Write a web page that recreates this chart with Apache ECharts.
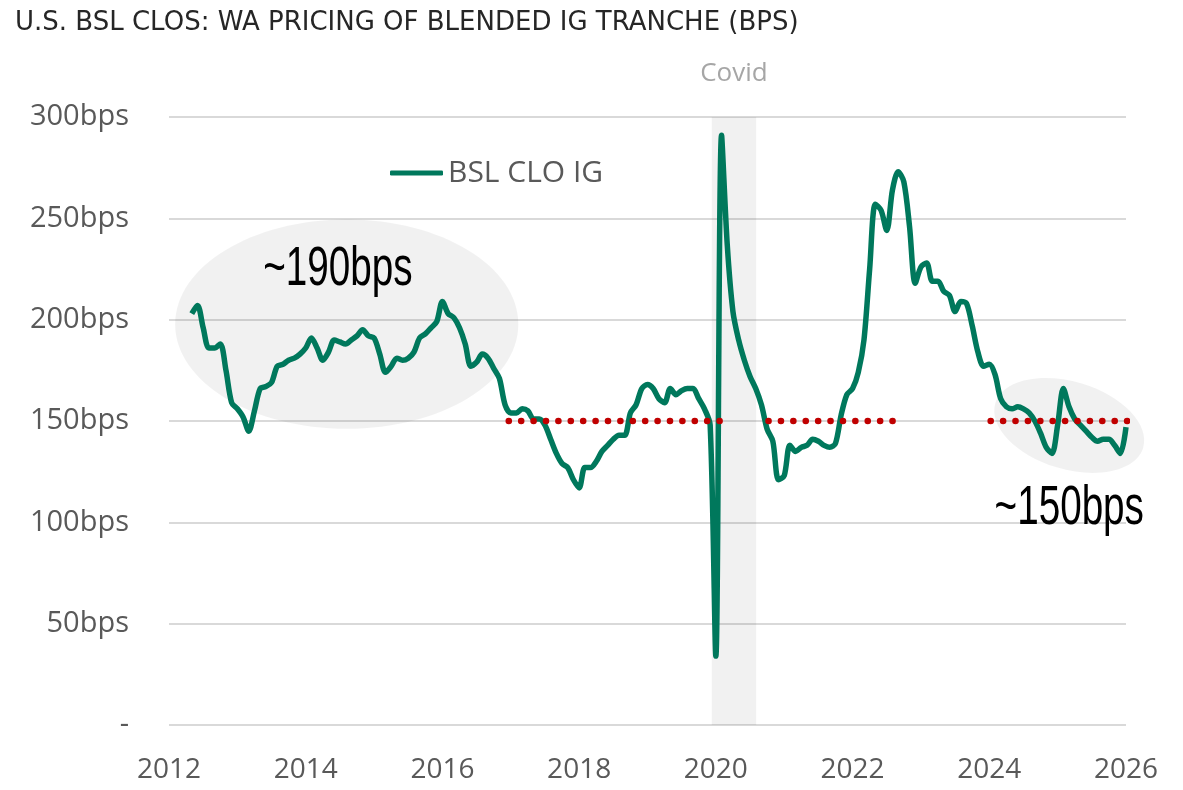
<!DOCTYPE html>
<html>
<head>
<meta charset="utf-8">
<script src="https://cdn.jsdelivr.net/npm/echarts@6/dist/echarts.min.js"></script>
<style>
  html, body { margin: 0; padding: 0; background: #fff; }
  #chart { width: 1183px; height: 790px; }
</style>
</head>
<body>
<div id="chart"></div>
<script>
// monthly WA spread, bps
const dates = [
  '2012-05', '2012-06', '2012-07', '2012-08', '2012-09', '2012-10', '2012-11', '2012-12',
  '2013-01', '2013-02', '2013-03', '2013-04', '2013-05', '2013-06', '2013-07', '2013-08', '2013-09', '2013-10', '2013-11', '2013-12',
  '2014-01', '2014-02', '2014-03', '2014-04', '2014-05', '2014-06', '2014-07', '2014-08', '2014-09', '2014-10', '2014-11', '2014-12',
  '2015-01', '2015-02', '2015-03', '2015-04', '2015-05', '2015-06', '2015-07', '2015-08', '2015-09', '2015-10', '2015-11', '2015-12',
  '2016-01', '2016-02', '2016-03', '2016-04', '2016-05', '2016-06', '2016-07', '2016-08', '2016-09', '2016-10', '2016-11', '2016-12',
  '2017-01', '2017-02', '2017-03', '2017-04', '2017-05', '2017-06', '2017-07', '2017-08', '2017-09', '2017-10', '2017-11', '2017-12',
  '2018-01', '2018-02', '2018-03', '2018-04', '2018-05', '2018-06', '2018-07', '2018-08', '2018-09', '2018-10', '2018-11', '2018-12',
  '2019-01', '2019-02', '2019-03', '2019-04', '2019-05', '2019-06', '2019-07', '2019-08', '2019-09', '2019-10', '2019-11', '2019-12',
  '2020-01', '2020-02', '2020-03', '2020-04', '2020-05', '2020-06', '2020-07', '2020-08', '2020-09', '2020-10', '2020-11', '2020-12',
  '2021-01', '2021-02', '2021-03', '2021-04', '2021-05', '2021-06', '2021-07', '2021-08', '2021-09', '2021-10', '2021-11', '2021-12',
  '2022-01', '2022-02', '2022-03', '2022-04', '2022-05', '2022-06', '2022-07', '2022-08', '2022-09', '2022-10', '2022-11', '2022-12',
  '2023-01', '2023-02', '2023-03', '2023-04', '2023-05', '2023-06', '2023-07', '2023-08', '2023-09', '2023-10', '2023-11', '2023-12',
  '2024-01', '2024-02', '2024-03', '2024-04', '2024-05', '2024-06', '2024-07', '2024-08', '2024-09', '2024-10', '2024-11', '2024-12',
  '2025-01', '2025-02', '2025-03', '2025-04', '2025-05', '2025-06', '2025-07', '2025-08', '2025-09', '2025-10', '2025-11', '2025-12',
  '2026-01'
]
const values = [
  203, 207, 196, 186, 186, 188, 175, 159,
  156, 152, 145, 155, 166, 167, 169, 177, 178, 180, 181, 183,
  186, 191, 186, 180, 184, 190, 189, 188, 190, 192, 195, 192,
  191, 183, 174, 177, 181, 180, 181, 184, 191, 193, 196, 199,
  209, 203, 201, 196, 188, 177, 179, 183, 181, 176, 171, 158,
  154, 154, 156, 155, 151, 151, 148, 141, 134, 129, 127, 121,
  117, 127, 127, 130, 135, 138, 141, 143, 143, 154, 158, 166,
  168, 166, 161, 159, 166, 163, 165, 166, 166, 161, 156, 148,
  34, 291, 237, 204, 190, 180, 172, 166, 158, 146, 140, 121,
  123, 138, 135, 137, 138, 141, 140, 138, 137, 139, 153, 163,
  166, 174, 190, 225, 257, 254, 244, 264, 273, 268, 246, 218,
  226, 228, 219, 219, 214, 212, 204, 209, 208, 197, 184, 177,
  178, 173, 161, 157, 156, 157, 156, 154, 150, 144, 137, 134,
  148, 166, 157, 151, 148, 145, 142, 140, 141, 141, 138, 134,
  147
]

// 150bps reference segments (decimal years)
const refLevel = 150
const refFrom = [2016.97, 2020.77, 2024.02]
const refTo = [2020.2, 2022.75, 2026.17]

// covid window (decimal years)
const covidRange = [2019.94, 2020.59]

const noteTexts = ['~190bps', '~150bps']

const toYear = s => {
  const [y, m] = s.split('-').map(Number)
  return y + (m - 1) / 12
}

const chart = echarts.init(document.getElementById('chart'))

const axisFont = 'Open Sans'

const refSeries = refFrom.map((from, i) => ({
  name: 'ref' + i,
  type: 'line',
  data: [[from, refLevel], [refTo[i], refLevel]],
  showSymbol: false,
  clip: false,
  silent: true,
  z: 3,
  lineStyle: {
    color: '#C00000',
    width: 6.5,
    type: [0.1, 12.3],
    cap: 'round'
  }
}))

const option = {
  animation: false,
  title: {
    text: 'U.S. BSL CLOS: WA PRICING OF BLENDED IG TRANCHE (BPS)',
    left: 10,
    top: 5,
    textStyle: {
      fontFamily: 'DejaVu Sans',
      fontSize: 26,
      fontWeight: 'normal',
      color: '#262626'
    }
  },
  legend: {
    data: ['BSL CLO IG'],
    left: 385,
    top: 153,
    icon: 'roundRect',
    itemWidth: 53,
    itemHeight: 5,
    textStyle: { fontFamily: axisFont, fontSize: 30, color: '#595959' }
  },
  grid: { left: 169, right: 57, top: 117, bottom: 65 },
  xAxis: {
    type: 'value',
    min: 2012,
    max: 2026,
    interval: 2,
    axisLine: { show: false },
    axisTick: { show: false },
    splitLine: { show: false },
    axisLabel: {
      margin: 31,
      fontFamily: axisFont,
      fontSize: 28,
      color: '#595959',
      formatter: v => String(v)
    }
  },
  yAxis: {
    type: 'value',
    min: 0,
    max: 300,
    interval: 50,
    axisLine: { show: false },
    axisTick: { show: false },
    splitLine: { lineStyle: { color: '#D9D9D9', width: 2 } },
    axisLabel: {
      margin: 40,
      fontFamily: axisFont,
      fontSize: 29,
      color: '#595959',
      formatter: v => (v === 0 ? '-' : v + 'bps')
    }
  },
  series: [
    {
      name: 'BSL CLO IG',
      type: 'line',
      data: dates.map((d, i) => [toYear(d), values[i]]),
      showSymbol: false,
      smooth: 0.3,
      color: '#00785C',
      lineStyle: { width: 5.5, color: '#00785C' },
      markArea: {
        silent: true,
        itemStyle: { color: 'rgba(0,0,0,0.055)' },
        label: {
          show: true,
          position: 'top',
          distance: 30,
          fontFamily: axisFont,
          fontSize: 26,
          color: '#A6A6A6'
        },
        data: [[{ name: 'Covid', xAxis: covidRange[0] }, { xAxis: covidRange[1] }]]
      }
    },
    ...refSeries
  ]
}

chart.setOption(option)

// annotation ellipses and labels, placed in data space
const px = (x, y) => chart.convertToPixel({ gridIndex: 0 }, [x, y])
const o = px(2012, 0)
const pxPerYear = px(2013, 0)[0] - o[0]
const pxPerBps = o[1] - px(2012, 1)[1]

const c1 = px(2014.6, 197.8)
const c2 = px(2025.17, 147.8)
const t1 = px(2014.47, 224.5)
const t2 = px(2025.17, 106.6)

const noteText = (pos, text) => ({
  type: 'text',
  z: 10,
  silent: true,
  x: pos[0],
  y: pos[1],
  scaleX: 0.69,
  style: {
    text: text,
    fontFamily: 'Liberation Sans',
    fontSize: 56,
    fill: '#000',
    align: 'center',
    verticalAlign: 'middle'
  }
})

chart.setOption({
  graphic: [
    {
      type: 'ellipse',
      z: 1,
      silent: true,
      shape: { cx: c1[0], cy: c1[1], rx: 2.51 * pxPerYear, ry: 51.6 * pxPerBps },
      style: { fill: 'rgba(0,0,0,0.055)' }
    },
    {
      type: 'ellipse',
      z: 1,
      silent: true,
      x: c2[0],
      y: c2[1],
      rotation: -0.293,
      shape: { cx: 0, cy: 0, rx: 1.13 * pxPerYear, ry: 21.6 * pxPerBps },
      style: { fill: 'rgba(0,0,0,0.055)' }
    },
    noteText(t1, noteTexts[0]),
    noteText(t2, noteTexts[1])
  ]
})

window.addEventListener('resize', () => chart.resize())
</script>
</body>
</html>
